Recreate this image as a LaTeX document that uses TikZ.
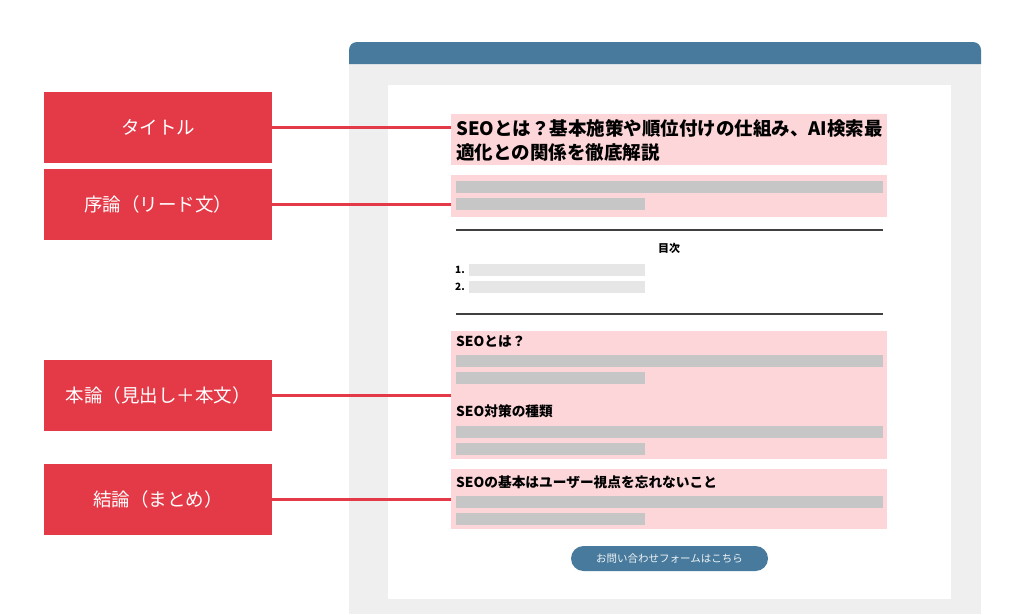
\documentclass[tikz,border=0pt]{standalone}
\usepackage{fontspec}
\setmainfont{Noto Sans CJK JP}
\usetikzlibrary{positioning}

\definecolor{labelred}{HTML}{E43A47}
\definecolor{secpink}{HTML}{FDD6D9}
\definecolor{barfill}{HTML}{C6C6C6}
\definecolor{tocfill}{HTML}{E6E6E6}
\definecolor{panelgray}{HTML}{EFEFEF}
\definecolor{headblue}{HTML}{477A9C}

\tikzset{
  lblbox/.style={fill=labelred, text=white, minimum width=228, minimum height=71,
    inner sep=0, font=\fontsize{18.5}{18.5}\selectfont},
  secbox/.style={fill=secpink, minimum width=436, inner sep=0, anchor=north west},
  headtext/.style={anchor=west, inner sep=0, font=\bfseries\fontsize{13.7}{13.7}\selectfont},
  bar/.style={fill=barfill},
  link/.style={draw=labelred, line width=3},
}

\begin{document}
\begin{tikzpicture}[x=1pt,y=-1pt]
    \useasboundingbox[fill=white] (0,0) rectangle (1024,614);

    % Page frame
    \fill[panelgray] (349,64) rectangle (981,614);
    \fill[headblue] (349,64) [rounded corners=8] -- (349,42) -- (981,42) [sharp corners] -- (981,64) -- cycle;
    \fill[white] (388,85) rectangle (951,599);

    % Highlighted sections
    \node[secbox, minimum height=51] (secTitle) at (451,114) {};
    \node[secbox, minimum height=42] (secLead) at (451,175) {};
    \node[secbox, minimum height=128] (secBody) at (451,331) {};
    \node[secbox, minimum height=60] (secConc) at (451,469) {};

    % Title text
    \node[anchor=west, inner sep=0, font=\bfseries\fontsize{18.5}{18.5}\selectfont] (titleA) at (456,128) {SEOとは？基本施策や順位付けの仕組み、AI検索最};
    \node[anchor=west, inner sep=0, font=\bfseries\fontsize{18.5}{18.5}\selectfont] (titleB) at (456,153) {適化との関係を徹底解説};

    % Text lines (placeholder bars)
    \foreach \y in {181,355,426,496} {
        \fill[bar] (456,\y) rectangle (883,\y+12);
        \fill[bar] (456,\y+17) rectangle (645,\y+29);
    }

    % Table of contents
    \draw[black!75, line width=1.2] (456,230) -- (883,230);
    \draw[black!75, line width=1.2] (456,314) -- (883,314);
    \node[inner sep=0, font=\bfseries\fontsize{11}{11}\selectfont] (tocHead) at (669,248) {目次};
    \node[anchor=west, inner sep=0, font=\bfseries\fontsize{10}{10}\selectfont] (tocOne) at (455,270) {1.};
    \node[anchor=west, inner sep=0, font=\bfseries\fontsize{10}{10}\selectfont] (tocTwo) at (455,287) {2.};
    \fill[tocfill] (469,264) rectangle (645,276);
    \fill[tocfill] (469,281) rectangle (645,293);

    % Headings
    \node[headtext] (headWhat) at (456,341) {SEOとは？};
    \node[headtext] (headKinds) at (456,411) {SEO対策の種類};
    \node[headtext] (headConc) at (456,482) {SEOの基本はユーザー視点を忘れないこと};

    % Contact button
    \node[fill=headblue, rounded corners=12.5, minimum width=197, minimum height=25, inner sep=0,
        text=white!92!headblue, font=\fontsize{10.5}{10.5}\selectfont] (btnContact) at (669.5,558.5) {お問い合わせフォームはこちら};

    % Labels and links
    \node[lblbox] (lblTitle) at (158,127) {タイトル};
    \node[lblbox] (lblLead) at (158,204) {序論（リード文）};
    \node[lblbox] (lblBody) at (158,395) {本論（見出し＋本文）};
    \node[lblbox] (lblConc) at (158,499) {結論（まとめ）};

    \draw[link] (lblTitle.east) -- (lblTitle.east -| secTitle.west);
    \draw[link] (lblLead.east) -- (lblLead.east -| secLead.west);
    \draw[link] (lblBody.east) -- (lblBody.east -| secBody.west);
    \draw[link] (lblConc.east) -- (lblConc.east -| secConc.west);
\end{tikzpicture}
\end{document}
